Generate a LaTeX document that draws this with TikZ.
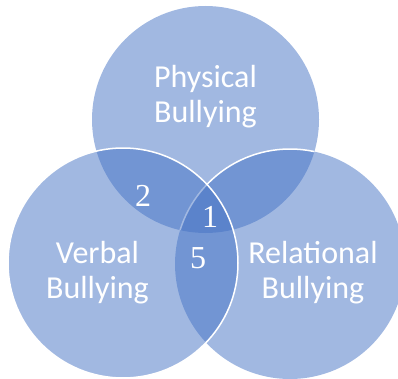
\documentclass[tikz,border=0pt]{standalone}
\usepackage{fontspec}
\setmainfont{Carlito}
\newfontfamily\numfont{Liberation Serif}
\definecolor{vennblue}{HTML}{4472C4}
\tikzset{
  venn/.style={fill=vennblue, fill opacity=0.5},
  rim/.style={draw=white, line width=1.5pt},
  setname/.style={text=white, align=center, font=\fontsize{32}{35}\selectfont},
  tally/.style={text=white, font=\numfont\fontsize{32}{35}\selectfont}
}
\begin{document}
\begin{tikzpicture}[x=1pt,y=1pt]
    \pgfmathsetmacro{\rt}{113.5}
    \pgfmathsetmacro{\rs}{115}
    \useasboundingbox (0,0) rectangle (398,378);
    \coordinate (phys) at (205.5,258.5);
    \coordinate (verb) at (123,115);
    \coordinate (rela) at (290,114);
    % Draw the circles
    \fill [venn] (phys) circle (\rt pt);
    \fill [venn] (rela) circle (\rs pt);
    \begin{scope}
        \clip (phys) circle (\rt pt);
        \draw [rim] (rela) circle (\rs pt);
    \end{scope}
    \fill [venn] (verb) circle (\rs pt);
    \draw [rim] (verb) circle (\rs pt);

    % Set names (base = last line)
    \node [setname, anchor=base] (physname) at (205.5,255) {Physical\\Bullying};
    \node [setname, anchor=base] (verbname) at (97.5,80) {Verbal\\Bullying};
    \node [setname, anchor=base] (relaname) at (313,80) {Relational\\Bullying};

    % Counts in the overlaps
    \node [tally, anchor=base] (two) at (143,172) {2};
    \node [tally, anchor=base] (one) at (210,151) {1};
    \node [tally, anchor=base] (five) at (198,110) {5};
\end{tikzpicture}
\end{document}
